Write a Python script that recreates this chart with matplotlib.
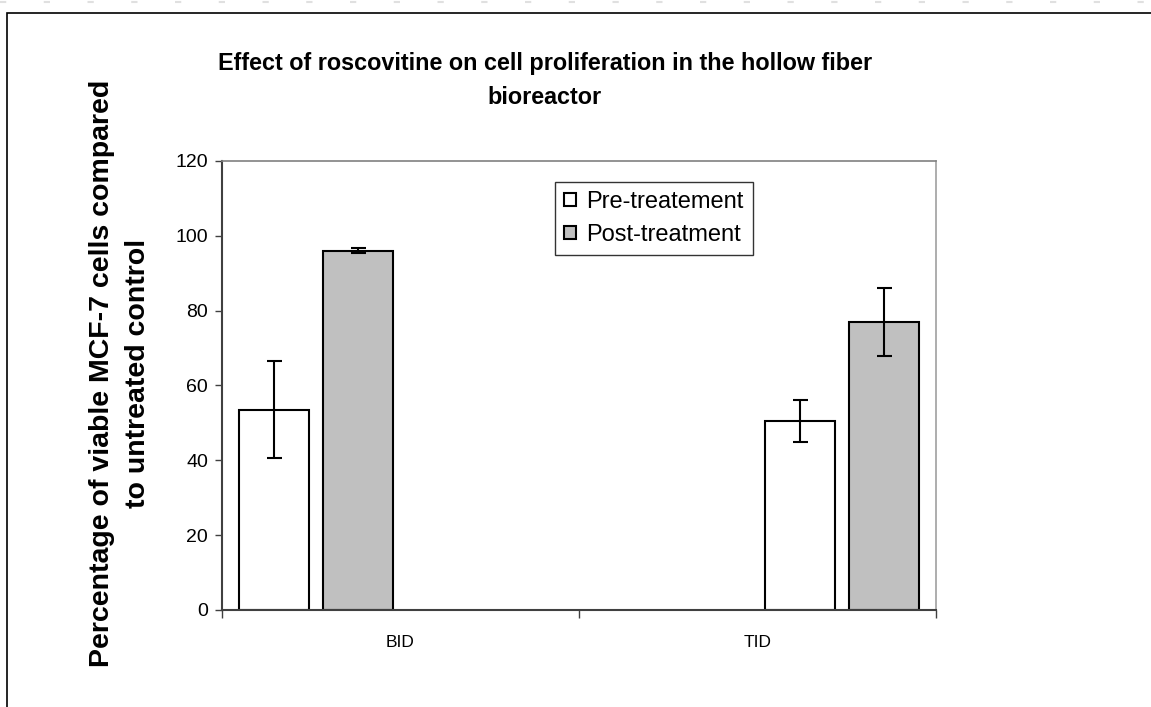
import numpy as np
import matplotlib
matplotlib.use("Agg")
import matplotlib.pyplot as plt
from matplotlib.patches import Rectangle
from matplotlib.lines import Line2D

plt.rcParams['font.family'] = ['Liberation Sans', 'DejaVu Sans']

# data
categories = ['BID', 'TID']
pre_values = [53.5, 50.5]
pre_errors = [13.0, 5.7]
post_values = [96.0, 77.0]
post_errors = [0.7, 9.0]
y_ticks = [0, 20, 40, 60, 80, 100, 120]

# excel had four series slots per category, only two are filled
pre_slot = [0, 2]
post_slot = [1, 3]
n_slots = 4
slot_w = 0.2367
bar_w = 0.196

fig = plt.figure(figsize=(11.51, 7.07), dpi=100)
ax = fig.add_axes([0.1929, 0.1372, 0.6203, 0.6351])

x = np.arange(len(categories))
pre_x = x + (np.array(pre_slot) - (n_slots - 1) / 2) * slot_w
post_x = x + (np.array(post_slot) - (n_slots - 1) / 2) * slot_w

ax.bar(pre_x, pre_values, bar_w, color='white', edgecolor='black', linewidth=1.5,
       label='Pre-treatement', zorder=2)
ax.bar(post_x, post_values, bar_w, color='#C0C0C0', edgecolor='black', linewidth=1.5,
       label='Post-treatment', zorder=2)
ax.errorbar(pre_x, pre_values, yerr=pre_errors, fmt='none', ecolor='black',
            elinewidth=1.5, capsize=5.4, capthick=1.5, zorder=3)
ax.errorbar(post_x, post_values, yerr=post_errors, fmt='none', ecolor='black',
            elinewidth=1.5, capsize=5.4, capthick=1.5, zorder=3)

ax.set_xlim(-0.5, len(categories) - 0.5)
ax.set_ylim(0, 120)
ax.set_yticks(y_ticks)
ax.set_yticklabels([str(v) for v in y_ticks], fontsize=14)

# category separators as ticks, labels in the middle
ax.set_xticks(np.arange(len(categories) + 1) - 0.5)
ax.set_xticklabels([])
ax.set_xticks(x, minor=True)
ax.set_xticklabels(categories, minor=True, fontsize=12.5)
ax.tick_params(axis='x', which='major', direction='out', length=6, width=1, color='#404040')
ax.tick_params(axis='x', which='minor', length=0, pad=18)
ax.tick_params(axis='y', direction='out', length=5, width=1, color='#404040', pad=5)

ax.spines['left'].set_color('#404040')
ax.spines['bottom'].set_color('#404040')
ax.spines['left'].set_linewidth(1.5)
ax.spines['bottom'].set_linewidth(1.5)
ax.spines['top'].set_color('#808080')
ax.spines['right'].set_color('#a0a0a0')
ax.spines['top'].set_linewidth(1.2)
ax.spines['right'].set_linewidth(1.2)

fig.text(0.1045, 0.4717, 'Percentage of viable MCF-7 cells compared\nto untreated control',
         ha='center', va='center', rotation=90, fontsize=20.5, fontweight='bold',
         linespacing=1.5)

fig.text(0.4735, 0.886, 'Effect of roscovitine on cell proliferation in the hollow fiber\nbioreactor',
         ha='center', va='center', fontsize=16.8, fontweight='bold', linespacing=1.65)

leg = ax.legend(loc='upper left', bbox_to_anchor=(0.466, 0.954), fontsize=17,
                frameon=True, fancybox=False, handlelength=0.5, handleheight=0.5,
                handletextpad=0.45, borderpad=0.4, labelspacing=0.45, borderaxespad=0)
leg.get_frame().set_edgecolor('black')
leg.get_frame().set_linewidth(1)

# outer chart frame and faint page marks
fig.patches.append(Rectangle((7 / 1151, -0.1), 1.2, (707 - 13) / 707 + 0.1,
                             transform=fig.transFigure, fill=False,
                             edgecolor='black', linewidth=1.2))
fig.lines.append(Line2D([0, 1], [0.997, 0.997], transform=fig.transFigure,
                        color='#e0e0e0', linewidth=1.5, dashes=(3, 18)))

fig.savefig('out.png', dpi=100)
